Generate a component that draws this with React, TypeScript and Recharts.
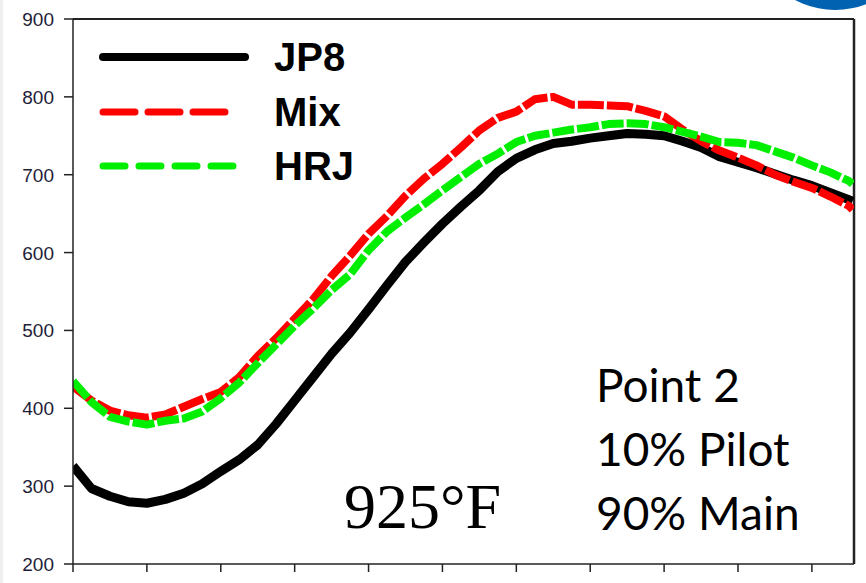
import React from 'react';
import { LineChart, Line, XAxis, YAxis, Legend, ReferenceLine } from 'recharts';

const xValues = [
  0, 0.25, 0.5, 0.75, 1, 1.25, 1.5, 1.75, 2, 2.25, 2.5, 2.75, 3, 3.25, 3.5, 3.75,
  4, 4.25, 4.5, 4.75, 5, 5.25, 5.5, 5.75, 6, 6.25, 6.5, 6.75, 7, 7.25, 7.5, 7.75,
  8, 8.25, 8.5, 8.75, 9, 9.25, 9.5, 9.75, 10, 10.25, 10.5, 10.55,
];

const jp8 = [
  326, 297, 287, 280, 278, 283, 291, 303, 319, 334, 353, 380, 410, 440, 470, 497,
  527, 558, 588, 613, 637, 659, 680, 704, 721, 732, 740, 743, 747, 750, 753, 752,
  750, 743, 735, 723, 716, 709, 701, 693, 686, 677, 668, 666,
];

const mix = [
  428, 410, 397, 391, 388, 392, 402, 412, 421, 440, 467, 490, 515, 540, 570, 596,
  624, 647, 673, 695, 714, 735, 757, 773, 781, 797, 800, 790, 790, 789, 788, 782,
  775, 758, 743, 731, 722, 712, 700, 691, 683, 672, 660, 655,
];

const hrj = [
  435, 408, 389, 383, 379, 384, 387, 396, 413, 433, 458, 482, 506, 528, 552, 572,
  603, 627, 645, 662, 680, 697, 714, 727, 742, 750, 754, 758, 761, 765, 766, 765,
  761, 755, 749, 742, 741, 738, 730, 722, 712, 703, 692, 688,
];

const yTicks = [200, 300, 400, 500, 600, 700, 800, 900];
const xTicks = [0, 1, 2, 3, 4, 5, 6, 7, 8, 9, 10];
const seriesNames = ['JP8', 'Mix', 'HRJ'];
const annotationLines = ['Point 2', '10% Pilot', '90% Main'];
const temperatureLabel = '925°F';

const data = xValues.map((x, i) => ({ x, jp8: jp8[i], mix: mix[i], hrj: hrj[i] }));

const legendStyles = [
  { color: '#000000', width: 8, dash: undefined as string | undefined, len: 142 },
  { color: '#ff0000', width: 7, dash: '32 13', len: 125 },
  { color: '#00ee00', width: 7, dash: '22 14', len: 133 },
];

const LegendContent = () => (
  <div>
    {seriesNames.map((name, i) => {
      const s = legendStyles[i];
      return (
        <svg key={name} width={300} height={54.5} style={{ display: 'block' }}>
          <line
            x1={4}
            x2={4 + s.len}
            y1={27}
            y2={27}
            stroke={s.color}
            strokeWidth={s.width}
            strokeDasharray={s.dash}
            strokeLinecap="round"
          />
          <text
            x={175}
            y={41}
            fontFamily="Liberation Sans, Arial, sans-serif"
            fontWeight="bold"
            fontSize={40}
            fill="#000"
          >
            {name}
          </text>
        </svg>
      );
    })}
  </div>
);

const YTick = (props: any) => {
  const { x, y, payload } = props;
  return (
    <text
      x={x}
      y={y}
      dy={7}
      textAnchor="end"
      fontFamily="Liberation Sans, Arial, sans-serif"
      fontSize={19}
      fill="#1e1e38"
    >
      {payload.value}
    </text>
  );
};

export default function App() {
  return (
    <div style={{ position: 'absolute', left: 0, top: 0, width: 866, height: 583, background: '#fff' }}>
      <LineChart
        width={866}
        height={583}
        data={data}
        margin={{ top: 19, right: 12, bottom: 0, left: 0 }}
      >
        <XAxis
          dataKey="x"
          type="number"
          domain={[0, 10.57]}
          ticks={xTicks}
          tickFormatter={() => ''}
          tickSize={8}
          height={19}
          axisLine={{ stroke: '#222', strokeWidth: 1.5 }}
          tickLine={{ stroke: '#222', strokeWidth: 1.5 }}
          allowDataOverflow
        />
        <YAxis
          type="number"
          domain={[200, 900]}
          ticks={yTicks}
          width={73}
          tickSize={9}
          tickMargin={10}
          axisLine={{ stroke: '#222', strokeWidth: 1.5 }}
          tickLine={{ stroke: '#222', strokeWidth: 1.5 }}
          tick={<YTick />}
          allowDataOverflow
        />
        <ReferenceLine y={900} stroke="#222" strokeWidth={2} ifOverflow="visible" />
        <ReferenceLine x={10.57} stroke="#222" strokeWidth={2.5} ifOverflow="visible" />
        <Legend
          layout="vertical"
          align="center"
          verticalAlign="middle"
          content={<LegendContent />}
          wrapperStyle={{ top: 30, left: 99, width: 300, height: 164 }}
        />
        <Line
          type="linear"
          dataKey="jp8"
          name="JP8"
          stroke="#000000"
          strokeWidth={9}
          strokeLinejoin="round"
          dot={false}
          isAnimationActive={false}
        />
        <Line
          type="linear"
          dataKey="mix"
          name="Mix"
          stroke="#ff0000"
          strokeWidth={8}
          strokeDasharray="26 3"
          strokeLinejoin="round"
          dot={false}
          isAnimationActive={false}
        />
        <Line
          type="linear"
          dataKey="hrj"
          name="HRJ"
          stroke="#00ee00"
          strokeWidth={8}
          strokeDasharray="22 3"
          strokeLinejoin="round"
          dot={false}
          isAnimationActive={false}
        />
      </LineChart>
      <svg
        width={866}
        height={583}
        style={{ position: 'absolute', left: 0, top: 0, pointerEvents: 'none' }}
      >
        <rect x={0} y={0} width={3} height={583} fill="#efefef" />
        <circle cx={835} cy={-75} r={85} fill="#0062b0" />
        {annotationLines.map((t, i) => (
          <text
            key={t}
            x={596}
            y={402 + i * 64}
            fontFamily="Lato, 'Open Sans', sans-serif"
            fontSize={46}
            fill="#000"
          >
            {t}
          </text>
        ))}
        <text
          x={344}
          y={528}
          fontFamily="'Liberation Serif', 'Times New Roman', serif"
          fontSize={64}
          fill="#000"
        >
          {temperatureLabel}
        </text>
      </svg>
    </div>
  );
}
